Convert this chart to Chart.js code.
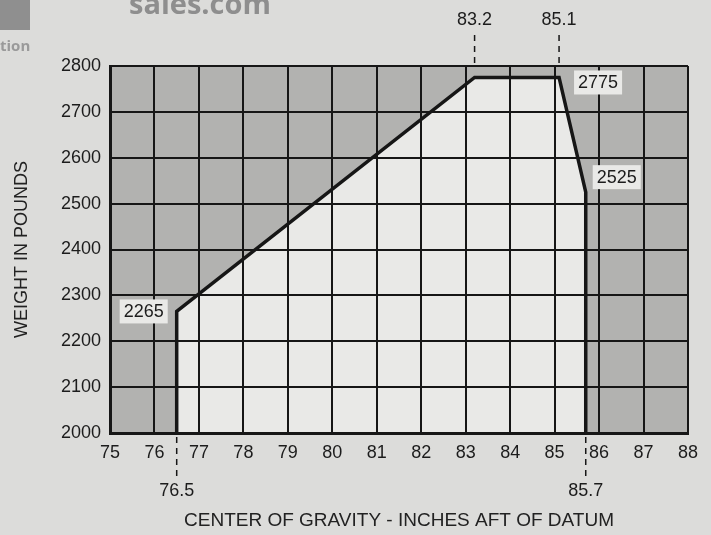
<!DOCTYPE html>
<html lang="en">
<head>
  <meta charset="UTF-8" />
  <title>Center of Gravity Envelope</title>
  <script src="https://cdn.jsdelivr.net/npm/chart.js"></script>
  <style>
    body { margin: 0; background: #dcdcda; font-family: "Liberation Sans", Arial, sans-serif; }
    #wrap { position: relative; width: 711px; height: 535px; overflow: hidden; }
    #logoBox { position: absolute; left: 0; top: 0; width: 30px; height: 30px; background: #8f8f8f; }
    #mark { position: absolute; left: 129px; top: -17px; font: bold 29px "Open Sans", sans-serif; color: #8e8e8e; }
    #tion { position: absolute; left: 0; top: 35px; font: bold 15px "Open Sans", sans-serif; color: #9a9a9a; }
  </style>
</head>
<body>
  <div id="wrap">
    <canvas id="cgChart" width="711" height="535"></canvas>
    <div id="logoBox"></div>
    <div id="mark">sales.com</div>
    <div id="tion">tion</div>
  </div>

  <script>
    // envelope corners: CG (inches aft of datum) vs weight (lb)
    const cgInches = [76.5, 76.5, 83.2, 85.1, 85.7, 85.7];
    const weightLbs = [2000, 2265, 2775, 2775, 2525, 2000];

    const xMin = 75, xMax = 88, xStep = 1;
    const yMin = 2000, yMax = 2800, yStep = 100;

    // dashed callouts above and below the plot
    const topCallouts = ['83.2', '85.1'];
    const bottomCallouts = ['76.5', '85.7'];

    // weight labels on envelope corners (point index, text)
    const cornerIdx = [1, 3, 4];
    const cornerText = ['2265', '2775', '2525'];

    const inside = '#e9e9e7';
    const shade = '#b2b2b0';
    const ink = '#161616';
    const font = '"Liberation Sans", Arial, sans-serif';

    const calloutPlugin = {
      id: 'callouts',
      beforeDraw(chart) {
        const { ctx, chartArea: a } = chart;
        ctx.save();
        ctx.fillStyle = shade;
        ctx.fillRect(a.left, a.top, a.right - a.left, a.bottom - a.top);
        ctx.restore();
      },
      afterDraw(chart) {
        const { ctx, chartArea: a } = chart;
        const xs = chart.scales.x, ys = chart.scales.y;
        ctx.save();
        ctx.strokeStyle = ink;
        ctx.fillStyle = '#1c1c1c';
        ctx.lineWidth = 1.5;
        ctx.setLineDash([6, 5]);
        ctx.font = '18px ' + font;
        ctx.textAlign = 'center';
        ctx.textBaseline = 'middle';

        topCallouts.forEach(t => {
          const px = xs.getPixelForValue(parseFloat(t));
          ctx.beginPath();
          ctx.moveTo(px, 35);
          ctx.lineTo(px, a.top);
          ctx.stroke();
          ctx.fillText(t, px, 20);
        });
        bottomCallouts.forEach(t => {
          const px = xs.getPixelForValue(parseFloat(t));
          ctx.beginPath();
          ctx.moveTo(px, a.bottom + 4);
          ctx.lineTo(px, a.bottom + 46);
          ctx.stroke();
          ctx.fillText(t, px, a.bottom + 58);
        });

        ctx.setLineDash([]);
        const offs = [[-33, 0], [39, 5], [31, -15]];
        cornerIdx.forEach((i, k) => {
          const px = xs.getPixelForValue(cgInches[i]) + offs[k][0];
          const py = ys.getPixelForValue(weightLbs[i]) + offs[k][1];
          const w = ctx.measureText(cornerText[k]).width + 8;
          ctx.fillStyle = inside;
          ctx.fillRect(px - w / 2, py - 12, w, 24);
          ctx.fillStyle = '#1c1c1c';
          ctx.fillText(cornerText[k], px, py + 1);
        });
        ctx.restore();
      }
    };

    new Chart(document.getElementById('cgChart'), {
      type: 'scatter',
      data: {
        datasets: [{
          data: cgInches.map((x, i) => ({ x, y: weightLbs[i] })),
          showLine: true,
          fill: 'start',
          backgroundColor: inside,
          borderColor: ink,
          borderWidth: 3.5,
          pointRadius: 0,
          tension: 0
        }]
      },
      options: {
        responsive: false,
        animation: false,
        layout: { padding: { top: 66, right: 23, left: 0, bottom: 0 } },
        plugins: { legend: { display: false }, tooltip: { enabled: false } },
        scales: {
          x: {
            type: 'linear', min: xMin, max: xMax,
            ticks: { stepSize: xStep, color: '#1c1c1c', padding: 9, callback: v => String(v),
                     font: { family: font, size: 18 } },
            grid: { color: ink, lineWidth: 2, drawTicks: false, z: 1 },
            border: { color: ink, width: 3, z: 1 },
            title: { display: true, text: 'CENTER OF GRAVITY - INCHES AFT OF DATUM', color: '#222',
                     font: { family: font, size: 19 },
                     padding: { top: 4, bottom: 3 } },
            afterFit: s => { s.height = 102; }
          },
          y: {
            min: yMin, max: yMax,
            ticks: { stepSize: yStep, color: '#1c1c1c', padding: 9, callback: v => String(v),
                     font: { family: font, size: 18 } },
            grid: { color: ink, lineWidth: 2, drawTicks: false, z: 1 },
            border: { color: ink, width: 3, z: 1 },
            title: { display: true, text: 'WEIGHT IN POUNDS', color: '#222',
                     font: { family: font, size: 18 },
                     padding: { top: 11, bottom: 4 } },
            afterFit: s => { s.width = 110; }
          }
        }
      },
      plugins: [calloutPlugin]
    });
  </script>
</body>
</html>
